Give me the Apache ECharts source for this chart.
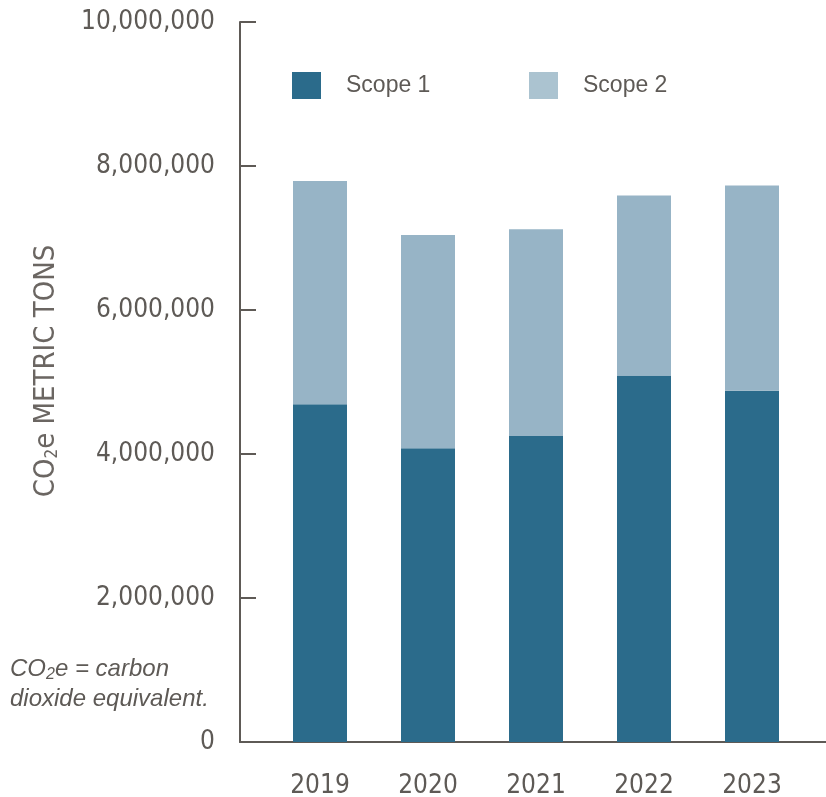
<!DOCTYPE html>
<html>
  <head>
    <meta charset="utf-8">
    <title></title>
    <style media="screen">
    html, body {margin:0; padding:0; background:#fff}
    .box {width:826px; height:797px}
    </style>
    <script src="https://cdn.jsdelivr.net/npm/echarts@6/dist/echarts.min.js" charset="utf-8"></script>
    <script>
    // data
    const years=['2019', '2020', '2021', '2022', '2023'];
    const scope1=[4690000, 4080000, 4250000, 5090000, 4880000];
    const scope2=[3100000, 2960000, 2870000, 2500000, 2850000];
    const yTicks=[0, 2000000, 4000000, 6000000, 8000000, 10000000];

    const narrow="'Liberation Sans Narrow', 'Arial Narrow', 'DejaVu Sans Condensed', sans-serif";
    const arial='Liberation Sans, Arial, sans-serif';
    const grey='#5e5a56';

    window.onload=function (){
      let chart=echarts.init(document.querySelector('.box'));

      let legendBase={
        top: 72,
        padding: 0,
        icon: 'rect',
        itemWidth: 29,
        itemHeight: 27,
        textStyle: {fontFamily: arial, fontSize: 23, color: grey, padding: [0, 0, 0, 20]}
      };

      let option={
        animation: false,
        grid: [
          {left: 266, right: 20, top: 22, bottom: 55, outerBoundsMode: 'none', containLabel: false},   // bars
          {left: 240, right: 0, top: 22, bottom: 55, outerBoundsMode: 'none', containLabel: false}     // axis frame
        ],
        legend: [
          Object.assign({left: 292, data: [{name: 'Scope 1'}]}, legendBase),
          Object.assign({left: 529, data: [{name: 'Scope 2', itemStyle: {color: '#abc3d0'}}]}, legendBase)
        ],
        xAxis: [
          {
            gridIndex: 0,
            type: 'category',
            data: years,
            axisLine: {show: false},
            axisTick: {show: false},
            axisLabel: {margin: 31, fontFamily: narrow, fontSize: 26, color: grey}
          },
          {
            gridIndex: 1,
            type: 'value',
            min: 0, max: 1,
            axisLine: {show: true, onZero: false, lineStyle: {color: grey, width: 2}},
            axisTick: {show: false},
            axisLabel: {show: false},
            splitLine: {show: false}
          }
        ],
        yAxis: [
          {gridIndex: 0, type: 'value', min: 0, max: 10000000, show: false},
          {
            gridIndex: 1,
            type: 'value',
            min: yTicks[0],
            max: yTicks[yTicks.length-1],
            interval: yTicks[1]-yTicks[0],
            axisLine: {show: true, lineStyle: {color: grey, width: 2}},
            axisTick: {show: true, inside: true, length: 16, lineStyle: {color: grey, width: 2}},
            axisLabel: {
              margin: 25,
              fontFamily: narrow,
              fontSize: 26,
              color: grey,
              formatter: v=>v.toLocaleString('en-US')
            },
            splitLine: {show: false}
          }
        ],
        series: [
          {
            name: 'Scope 1',
            type: 'bar',
            stack: 'co2',
            barWidth: '50%',
            itemStyle: {color: '#2b6b8b'},
            data: scope1
          },
          {
            name: 'Scope 2',
            type: 'bar',
            stack: 'co2',
            barWidth: '50%',
            itemStyle: {color: '#97b4c6'},
            data: scope2
          }
        ],
        graphic: [
          {
            type: 'text',
            x: 46, y: 371,
            rotation: Math.PI/2,
            style: {
              text: '{a|CO}{s|2}{a|e METRIC TONS}',
              align: 'center',
              verticalAlign: 'middle',
              fill: '#6b6662',
              rich: {
                a: {fontFamily: narrow, fontSize: 29, fill: '#6b6662', verticalAlign: 'middle'},
                s: {fontFamily: narrow, fontSize: 17, fill: '#6b6662', verticalAlign: 'bottom', padding: [14, 0, 0, 0]}
              }
            }
          },
          {
            type: 'text',
            x: 10, y: 654,
            style: {
              text: '{a|CO}{s|2}{a|e = carbon}\n{a|dioxide equivalent.}',
              align: 'left',
              verticalAlign: 'top',
              rich: {
                a: {fontFamily: arial, fontStyle: 'italic', fontSize: 24, fill: grey, lineHeight: 30},
                s: {fontFamily: arial, fontStyle: 'italic', fontSize: 16, fill: grey, lineHeight: 30, padding: [11, 0, 0, 0]}
              }
            }
          }
        ]
      };

      chart.setOption(option);
    };
    </script>
  </head>
  <body>
    <div class="box"></div>
  </body>
</html>
